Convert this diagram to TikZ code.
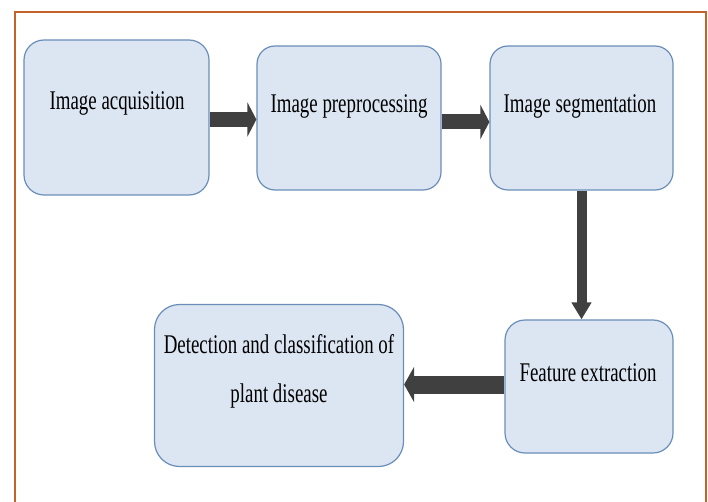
\documentclass[tikz,border=0pt]{standalone}
\usepackage{fontspec}
\newfontfamily\lblfont[FakeStretch=0.7]{Liberation Serif}
\usetikzlibrary{arrows.meta,calc}
\definecolor{boxfill}{HTML}{DCE6F2}
\definecolor{boxline}{HTML}{6A8DBA}
\definecolor{arrowcol}{HTML}{404040}
\definecolor{framecol}{HTML}{C4622C}
\tikzset{
  box/.style={draw=boxline, fill=boxfill, line width=1.2pt, inner sep=0pt, rounded corners=#1},
  box/.default=20pt,
  lbl/.style={anchor=base, inner sep=0pt, font={\lblfont\fontsize{27}{32}\selectfont}},
  hbig/.style={draw=arrowcol, line width=15pt, -{Triangle[length=9pt,width=34pt]}},
  vbig/.style={draw=arrowcol, line width=10pt, -{Triangle[length=17pt,width=19pt]}},
  hbig2/.style={draw=arrowcol, line width=18pt, -{Triangle[length=10pt,width=35pt]}},
}
\begin{document}
\begin{tikzpicture}[x=1pt,y=-1pt]
\useasboundingbox (0,0) rectangle (708,502);
% frame
\draw[framecol, line width=1.5pt] (15,502) -- (15,12) -- (706,12) -- (706,502);
% boxes
\node[box, minimum width=185pt, minimum height=155pt] (b1) at (116.5,117.5) {};
\node[box=18pt, minimum width=184pt, minimum height=144pt] (b2) at (349,118) {};
\node[box=18pt, minimum width=183pt, minimum height=144pt] (b3) at (581.5,118) {};
\node[box=20pt, minimum width=168pt, minimum height=133pt] (b4) at (589,386.5) {};
\node[box=25pt, minimum width=249pt, minimum height=162pt] (b5) at (279,385.5) {};
% labels
\node[lbl] (t1) at (117,110) {Image acquisition};
\node[lbl] (t2) at (349,113) {Image preprocessing};
\node[lbl] (t3) at (580,113) {Image segmentation};
\node[lbl] (t4) at (588,381) {Feature extraction};
\node[lbl] (t5a) at (279,353) {Detection and classification of};
\node[lbl] (t5b) at (279,402) {plant disease};
% arrows
\draw[hbig] ($(b1.east)+(0,2)$) -- ($(b1.east -| b2.west)+(0,2)$);
\draw[hbig] ($(b2.east)+(0,4)$) -- ($(b2.east -| b3.west)+(0,4)$);
\draw[vbig] (b3.south) -- (b3.south |- b4.north);
\draw[hbig2] ($(b4.west)+(0,-2)$) -- ($(b4.west -| b5.east)+(0,-2)$);
\end{tikzpicture}
\end{document}
